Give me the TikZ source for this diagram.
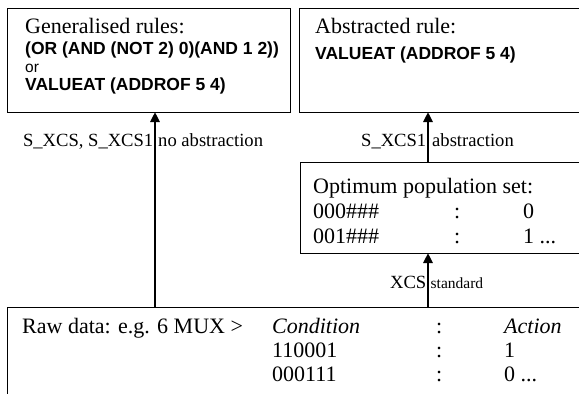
\documentclass[tikz,border=0pt]{standalone}
\usepackage{fontspec}
\setmainfont{Liberation Serif}
\newfontfamily\arialf{Liberation Sans}
\usetikzlibrary{arrows.meta}
\tikzset{
  box/.style={draw, line width=1pt, inner sep=0pt, anchor=north west},
  tr/.style={anchor=base west, inner sep=0pt, font=\fontsize{22}{24}\selectfont},
  ar/.style={anchor=base west, inner sep=0pt, font=\arialf\bfseries\fontsize{17.5}{20}\selectfont},
  lbl/.style={inner sep=0pt, font=\fontsize{18.6}{20}\selectfont},
  flow/.style={line width=2.6pt, -{Triangle[width=9pt,length=10pt]}}
}
\begin{document}
\begin{tikzpicture}[x=1pt,y=-1pt]
\useasboundingbox (0,0) rectangle (579,394);
\clip (0,0) rectangle (579,394);
% boxes
\node[box, minimum width=283pt, minimum height=104pt] (gen) at (7,8) {};
\node[box, minimum width=285pt, minimum height=104pt] (abs) at (299,8) {};
\node[box, minimum width=284pt, minimum height=91pt] (opt) at (300,162) {};
\node[box, minimum width=578pt, minimum height=96pt] (raw) at (7,307) {};
% texts in generalised box
\node[tr] (g1) at (25,33) {Generalised rules:};
\node[ar] (g2) at (25,54) {(OR (AND (NOT 2) 0)(AND 1 2))};
\node[anchor=base west, inner sep=0pt, font=\arialf\fontsize{15.5}{18}\selectfont] (g3) at (25,72) {or};
\node[ar] (g4) at (25,90) {VALUEAT (ADDROF 5 4)};
% abstracted
\node[tr] (a1) at (315,33) {Abstracted rule:};
\node[ar] (a2) at (315,59) {VALUEAT (ADDROF 5 4)};
% optimum
\node[tr] (o1) at (313,193) {Optimum population set:};
\node[tr] (o2) at (313,218) {000\#\#\#};
\node[tr] (o3) at (313,243) {001\#\#\#};
\node[tr] (o4) at (454,218) {:};
\node[tr] (o5) at (454,243) {:};
\node[tr] (o6) at (523,218) {0};
\node[tr] (o7) at (523,243) {1 ...};
% raw
\node[tr] (r1) at (22,333) {Raw data: e.g. 6 MUX >};
\node[tr] (r2) at (272,333) {\itshape Condition};
\node[tr] (r3) at (436,333) {:};
\node[tr] (r4) at (504,333) {\itshape Action};
\node[tr] (r5) at (272,357) {110001};
\node[tr] (r6) at (436,357) {:};
\node[tr] (r7) at (504,357) {1};
\node[tr] (r8) at (272,381) {000111};
\node[tr] (r9) at (436,381) {:};
\node[tr] (r10) at (504,381) {0 ...};
% connectors
\coordinate (c1s) at (155,307);
\coordinate (c1e) at (155,112);
\coordinate (c2s) at (428,162);
\coordinate (c2e) at (428,112);
\coordinate (c3s) at (428,307);
\coordinate (c3e) at (428,253);
\draw[flow] (c1s) -- (c1e);
\draw[flow] (c2s) -- (c2e);
\draw[flow] (c3s) -- (c3e);
% labels
\node[lbl, anchor=base east] (l1) at (153.5,146) {S\_XCS, S\_XCS1};
\node[lbl, anchor=base west] (l2) at (158,146) {no abstraction};
\node[lbl, anchor=base east] (l3) at (426.5,146) {S\_XCS1};
\node[lbl, anchor=base west] (l4) at (432,146) {abstraction};
\node[lbl, anchor=base east] (l5) at (426.5,288) {XCS};
\node[inner sep=0pt, anchor=base west, font=\fontsize{15.5}{17}\selectfont] (l6) at (430.5,288) {standard};
\end{tikzpicture}
\end{document}
